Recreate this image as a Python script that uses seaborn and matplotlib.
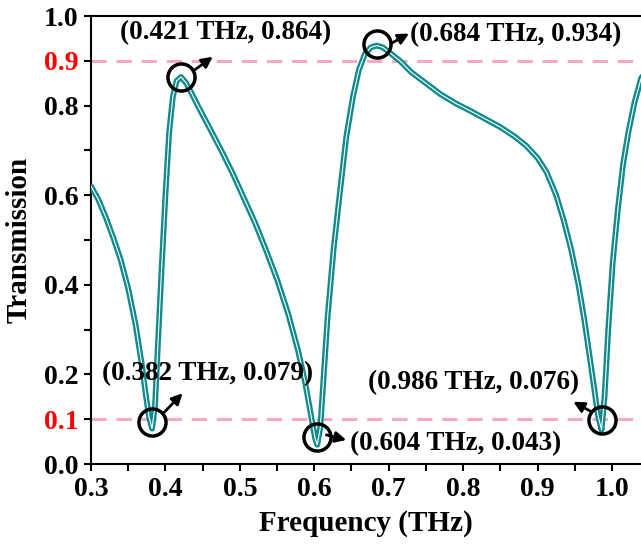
import matplotlib
matplotlib.use("Agg")
import matplotlib.pyplot as plt
import seaborn as sns
import numpy as np
import pandas as pd

# ---- data ----
freq = [0.300, 0.310, 0.320, 0.330, 0.340, 0.350, 0.360, 0.368, 0.374, 0.378, 0.382,
        0.386, 0.390, 0.395, 0.400, 0.405, 0.410, 0.415, 0.421,
        0.428, 0.435, 0.445, 0.460, 0.475, 0.490, 0.505, 0.520, 0.535, 0.550, 0.565,
        0.578, 0.588, 0.596, 0.601, 0.604,
        0.608, 0.612, 0.618, 0.626, 0.634, 0.643, 0.652, 0.660, 0.668, 0.676, 0.684,
        0.692, 0.700, 0.715, 0.730, 0.750, 0.770, 0.790, 0.810, 0.830, 0.850, 0.870,
        0.885, 0.900, 0.912, 0.925, 0.935, 0.945, 0.955, 0.963, 0.970, 0.976, 0.981, 0.986,
        0.990, 0.995, 1.001, 1.008, 1.015, 1.022, 1.030, 1.039, 1.045]
trans = [0.620, 0.590, 0.550, 0.505, 0.455, 0.392, 0.310, 0.225, 0.150, 0.105, 0.079,
         0.130, 0.270, 0.440, 0.600, 0.740, 0.820, 0.855, 0.864,
         0.850, 0.828, 0.795, 0.748, 0.700, 0.650, 0.595, 0.540, 0.478, 0.412, 0.335,
         0.255, 0.180, 0.105, 0.058, 0.043,
         0.080, 0.180, 0.330, 0.480, 0.600, 0.730, 0.820, 0.880, 0.915, 0.930, 0.934,
         0.930, 0.920, 0.900, 0.875, 0.850, 0.825, 0.805, 0.788, 0.770, 0.752, 0.730,
         0.710, 0.683, 0.652, 0.600, 0.545, 0.480, 0.400, 0.320, 0.240, 0.170, 0.110, 0.076,
         0.150, 0.300, 0.450, 0.570, 0.670, 0.740, 0.805, 0.860, 0.880]

# annotated extrema
mark_x = [0.382, 0.421, 0.604, 0.684, 0.986]
mark_y = [0.079, 0.864, 0.043, 0.934, 0.076]
mark_labels = ["(0.382 THz, 0.079)", "(0.421 THz, 0.864)", "(0.604 THz, 0.043)",
               "(0.684 THz, 0.934)", "(0.986 THz, 0.076)"]
circle_y = [0.094, 0.863, 0.061, 0.937, 0.098]
arrow_start = [(0.397, 0.113), (0.4396, 0.880), (0.6163, 0.065), (0.7036, 0.939), (0.972, 0.117)]
arrow_end = [(0.423, 0.158), (0.4636, 0.909), (0.643, 0.0536), (0.7273, 0.961), (0.948, 0.139)]
text_pos = [(0.3143, 0.2025), (0.3389, 0.962), (0.6477, 0.046), (0.728, 0.958), (0.672, 0.1815)]

ref_levels = [0.9, 0.1]
yticks = [0.0, 0.1, 0.2, 0.4, 0.6, 0.8, 0.9, 1.0]
ytick_labels = ["0.0", "0.1", "0.2", "0.4", "0.6", "0.8", "0.9", "1.0"]
xticks = [0.3, 0.4, 0.5, 0.6, 0.7, 0.8, 0.9, 1.0]

sns.set_style("white")
plt.rcParams['font.family'] = ['Liberation Serif', 'DejaVu Serif']
plt.rcParams['font.weight'] = 'bold'
plt.rcParams['text.color'] = 'black'
plt.rcParams['axes.labelcolor'] = 'black'
plt.rcParams['xtick.color'] = 'black'
plt.rcParams['ytick.color'] = 'black'

fig = plt.figure(figsize=(6.41, 5.50), dpi=100)
ax = fig.add_axes([91/641, 1 - 464/550, 1 - 91/641, (464 - 16)/550])

df = pd.DataFrame({"Frequency": freq, "Transmission": trans})
teal = "#108A8D"
for lvl in ref_levels:
    ax.axhline(lvl, color="#F7A8C4", lw=2.2, dashes=(5, 3.2), zorder=1)

sns.lineplot(data=df, x="Frequency", y="Transmission", ax=ax, color=teal, lw=4.2,
             sort=False, zorder=3)
sns.lineplot(data=df, x="Frequency", y="Transmission", ax=ax, color="white", lw=0.8,
             sort=False, zorder=4)

ax.plot(mark_x, circle_y, linestyle="none", marker="o", markersize=19.5,
        markerfacecolor="none", markeredgecolor="black", markeredgewidth=2.5, zorder=5)

for lab, s, e, tp in zip(mark_labels, arrow_start, arrow_end, text_pos):
    ax.annotate("", xy=e, xytext=s,
                arrowprops=dict(arrowstyle="-|>", color="black", lw=2.0,
                                mutation_scale=16, shrinkA=0, shrinkB=0), zorder=6)
    ax.text(tp[0], tp[1], lab, fontsize=19.5, fontweight="bold", ha="left", va="center",
            color="black", zorder=7)

ax.set_xlim(0.3, 1.039)
ax.set_ylim(0.0, 1.0)
ax.set_xticks(xticks)
ax.set_xticklabels([f"{v:.1f}" for v in xticks])
ax.set_xticks(np.arange(0.35, 1.04, 0.1), minor=True)
ax.set_yticks(yticks)
ax.set_yticklabels(ytick_labels)
ax.set_yticks([0.3, 0.5, 0.7], minor=True)
for lbl in ax.get_yticklabels():
    if lbl.get_text() in ("0.1", "0.9"):
        lbl.set_color("red")

ax.tick_params(axis="both", which="both", direction="out", length=5, width=1.5,
               labelsize=20, bottom=True, left=True, top=False, right=False, pad=4)
for l in ax.get_xticklabels() + ax.get_yticklabels():
    l.set_fontweight("bold")

for side in ["left", "bottom", "top"]:
    ax.spines[side].set_linewidth(1.5)
    ax.spines[side].set_color("black")
ax.spines["right"].set_visible(False)

ax.set_xlabel("Frequency (THz)", fontsize=21, fontweight="bold", labelpad=6)
ax.set_ylabel("Transmission", fontsize=21, fontweight="bold", labelpad=8)

fig.savefig("out.png", dpi=100)
